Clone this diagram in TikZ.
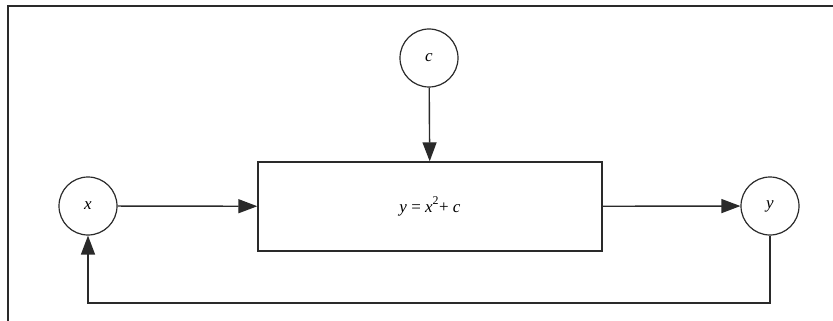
\documentclass[tikz,border=0pt]{standalone}
\usepackage{fontspec}
\setmainfont{Liberation Serif}
\usetikzlibrary{arrows.meta}
\definecolor{ink}{HTML}{2A2A2A}
\begin{document}
\begin{tikzpicture}[x=1pt,y=-1pt,
  var/.style={circle,draw=ink,line width=1.2pt,minimum size=58pt,inner sep=0pt,font=\fontsize{17}{19}\selectfont\itshape},
  fbox/.style={rectangle,draw=ink,line width=1.4pt,minimum width=344pt,minimum height=89pt,inner sep=0pt,font=\fontsize{17}{19}\selectfont},
  conn/.style={draw=ink,line width=1.4pt,-{Triangle[length=19pt,width=14pt]}},
  plain/.style={draw=ink,line width=1.4pt}]
\useasboundingbox (0,0) rectangle (833,321);
\draw[plain] (8,321) -- (8,6) -- (833,6);
\node[var] (c) at (429,58) {c};
\node[var] (x) at (88,206) {x};
\node[var] (y) at (770,206) {y};
\node[fbox] (f) at (430,206.5) {\textit{y} = \textit{x}\raisebox{1pt}{\textsuperscript{2}}+ \textit{c}};
\coordinate (br) at (770,303);
\coordinate (bl) at (88,303);
\draw[conn] (c) -- (f);
\draw[conn] (x) -- (f);
\draw[conn] (f) -- (y);
\draw[conn] (y.south) -- (br) -- (bl) -- (x.south);
\end{tikzpicture}
\end{document}
